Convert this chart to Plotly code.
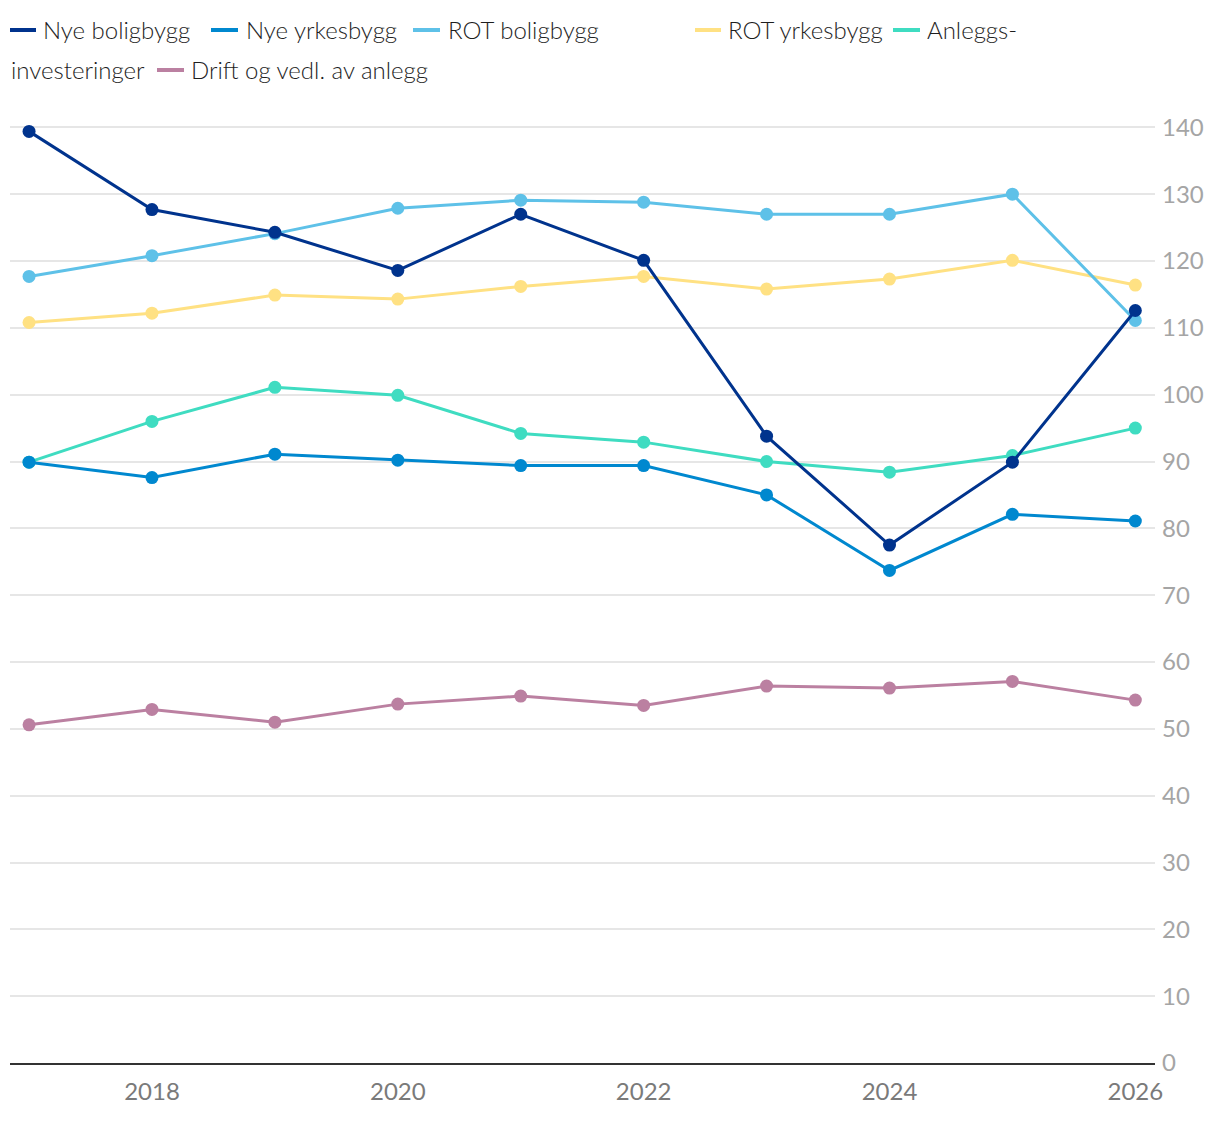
import plotly.graph_objects as go

years = [2017, 2018, 2019, 2020, 2021, 2022, 2023, 2024, 2025, 2026]

series_names = ["Nye boligbygg", "Nye yrkesbygg", "ROT boligbygg", "ROT yrkesbygg",
                "Anleggs-investeringer", "Drift og vedl. av anlegg"]
nye_boligbygg = [139.4, 127.7, 124.3, 118.6, 127.0, 120.1, 93.8, 77.5, 89.9, 112.6]
nye_yrkesbygg = [89.9, 87.6, 91.1, 90.2, 89.4, 89.4, 85.0, 73.7, 82.1, 81.1]
rot_boligbygg = [117.7, 120.8, 124.1, 127.9, 129.1, 128.8, 127.0, 127.0, 130.0, 111.1]
rot_yrkesbygg = [110.8, 112.2, 114.9, 114.3, 116.2, 117.7, 115.8, 117.3, 120.1, 116.4]
anleggs = [89.9, 96.0, 101.1, 99.9, 94.2, 92.9, 90.0, 88.4, 90.9, 95.0]
drift = [50.6, 52.9, 51.0, 53.7, 54.9, 53.5, 56.4, 56.1, 57.1, 54.3]

colors = ["#00338D", "#0088CF", "#5EC1E8", "#FFE183", "#3FDCC1", "#BB80A1"]
values = [nye_boligbygg, nye_yrkesbygg, rot_boligbygg, rot_yrkesbygg, anleggs, drift]

y_ticks = list(range(0, 141, 10))
x_ticks = [2018, 2020, 2022, 2024, 2026]

fig = go.Figure()
# draw in reverse so the first series sits on top
for name, vals, col in reversed(list(zip(series_names, values, colors))):
    fig.add_trace(go.Scatter(
        x=years, y=vals, name=name, mode="lines+markers",
        line=dict(color=col, width=3),
        marker=dict(color=col, size=13),
        cliponaxis=False, showlegend=False,
    ))

W, H = 1220, 1122
L, R, T, B = 10, 65, 114, 59
pw, ph = W - L - R, H - T - B

def px(x):
    return (x - L) / pw

def py(y):
    return (H - B - y) / ph

legend_items = [
    # (line x0, line x1, text x, text y, text, color index)
    (10, 36, 42, 30, "Nye boligbygg", 0),
    (211, 238, 245, 30, "Nye yrkesbygg", 1),
    (413, 440, 447, 30, "ROT boligbygg", 2),
    (695, 721, 727, 30, "ROT yrkesbygg", 3),
    (893, 920, 926, 30, "Anleggs-", 4),
    (None, None, 10, 70, "investeringer", None),
    (157, 184, 190, 70, "Drift og vedl. av anlegg", 5),
]
shapes = []
annotations = []
for x0, x1, tx, ty, txt, ci in legend_items:
    if x0 is not None:
        shapes.append(dict(type="line", xref="paper", yref="paper",
                           x0=px(x0), x1=px(x1), y0=py(ty), y1=py(ty),
                           line=dict(color=colors[ci], width=4)))
    annotations.append(dict(text=txt, xref="paper", yref="paper",
                            x=px(tx), y=py(ty), xanchor="left", yanchor="middle",
                            showarrow=False, borderpad=0,
                            font=dict(size=24, color="#1E1E1E", family="Lato", weight=300)))

fig.update_layout(
    width=W, height=H,
    margin=dict(l=L, r=R, t=T, b=B),
    paper_bgcolor="white", plot_bgcolor="white",
    font=dict(family="Lato", size=20),
    shapes=shapes, annotations=annotations,
    showlegend=False,
)
fig.update_xaxes(
    range=[2016.845, 2026.16], tickvals=x_ticks, ticktext=[str(v) for v in x_ticks],
    showgrid=False, showline=True, linecolor="#333333", linewidth=2,
    ticks="", tickfont=dict(size=24, color="#7A7A7A"), zeroline=False,
    ticklabelstandoff=6,
)
fig.update_yaxes(
    range=[0, 142], tickvals=y_ticks, side="right",
    showgrid=True, gridcolor="#E6E6E6", gridwidth=1.5,
    ticks="", tickfont=dict(size=24, color="#A5A5A5"), zeroline=False,
    showline=False, ticklabelstandoff=6,
)

fig.write_html("out.html")
